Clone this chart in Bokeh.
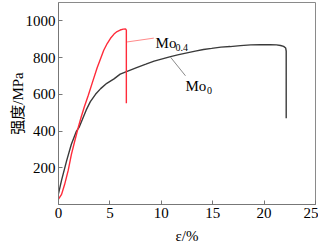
from bokeh.plotting import figure
from bokeh.models import Label, FixedTicker, Range1d
from bokeh.embed import file_html
from bokeh.resources import INLINE

# ---- data ----
mo0_strain = [0, 0.3, 0.8, 1.25, 1.75, 2.0, 2.3, 2.7, 3.1, 3.6, 4.1, 4.7, 5.4, 6.0,
              6.8, 7.6, 8.5, 9.3, 10.1, 10.9, 11.7, 12.5, 13.3, 14.1, 14.9, 15.8,
              16.7, 17.7, 18.7, 19.6, 20.6, 21.2, 21.6, 21.9, 22.1, 22.15, 22.15]
mo0_stress = [59, 133, 240, 328, 400, 420, 460, 515, 560, 600, 631, 660, 684, 710,
              728, 745, 764, 781, 793, 805, 816, 826, 835, 844, 850, 857,
              860, 865, 869, 870, 870, 869, 866, 861, 852, 835, 470]

mo04_strain = [0, 0.3, 0.6, 0.95, 1.25, 1.6, 1.9, 2.2, 2.5, 2.9, 3.3, 3.76, 4.1,
               4.4, 4.75, 5.06, 5.4, 5.7, 6.0, 6.3, 6.52, 6.6, 6.6]
mo04_stress = [30, 55, 110, 187, 272, 350, 415, 475, 530, 595, 665, 745, 795,
               840, 878, 905, 928, 942, 950, 955, 956, 950, 551]

x_ticks = [0, 5, 10, 15, 20, 25]
y_ticks = [200, 400, 600, 800, 1000]

series_names = ["Mo", "Mo"]
series_subs = ["0.4", "0"]
# label anchors (data coords) and leader line ends
mo04_leader_x = [6.66, 9.27]
mo04_leader_y = [885, 906]
mo0_leader_x = [10.9, 12.35]
mo0_leader_y = [802, 701]

SERIF = "Liberation Serif"
CJK = "Liberation Serif, Noto Sans CJK SC"

p = figure(width=318, height=246, output_backend="svg", toolbar_location=None,
           x_range=Range1d(0, 25), y_range=Range1d(0, 1100),
           min_border_left=58, min_border_right=3, min_border_top=2,
           min_border_bottom=38)
p.background_fill_color = "white"
p.border_fill_color = "white"
p.outline_line_color = "#8a8a8a"
p.outline_line_width = 1
p.grid.visible = False

for ax in (p.xaxis, p.yaxis):
    ax.axis_line_color = "#777777"
    ax.major_tick_line_color = "#777777"
    ax.major_tick_in = 4
    ax.major_tick_out = 0
    ax.minor_tick_line_color = None
    ax.major_label_text_font = SERIF
    ax.major_label_text_font_size = "15px"
    ax.major_label_text_color = "black"
    ax.major_label_standoff = 3
    ax.axis_label_text_font_size = "15px"
    ax.axis_label_text_font_style = "normal"
    ax.axis_label_text_color = "black"

p.xaxis.ticker = FixedTicker(ticks=x_ticks)
p.yaxis.ticker = FixedTicker(ticks=y_ticks)
p.xaxis.axis_label = "ε/%"
p.xaxis.axis_label_text_font = SERIF
p.xaxis.axis_label_standoff = 7
p.yaxis.axis_label = "强度/MPa"
p.yaxis.axis_label_text_font = CJK
p.yaxis.axis_label_standoff = -3

p.line(mo0_strain, mo0_stress, line_color="#3a3a3a", line_width=1.4)
p.line(mo04_strain, mo04_stress, line_color="#ff2b3a", line_width=1.4)

p.line(mo04_leader_x, mo04_leader_y, line_color="#ff8a8a", line_width=1)
p.line(mo0_leader_x, mo0_leader_y, line_color="#8a8a8a", line_width=1)

def lab(x, y, text, size):
    p.add_layout(Label(x=x, y=y, text=text, text_font=SERIF,
                       text_font_size=size, text_align="left",
                       text_baseline="alphabetic", text_color="black"))

# series labels
lab(9.44, 880, series_names[0], "15px")
lab(11.38, 855, series_subs[0], "10px")
lab(12.35, 648, series_names[1], "15px")
lab(14.45, 622, series_subs[1], "10px")

open("out.html", "w").write(file_html(p, INLINE))
